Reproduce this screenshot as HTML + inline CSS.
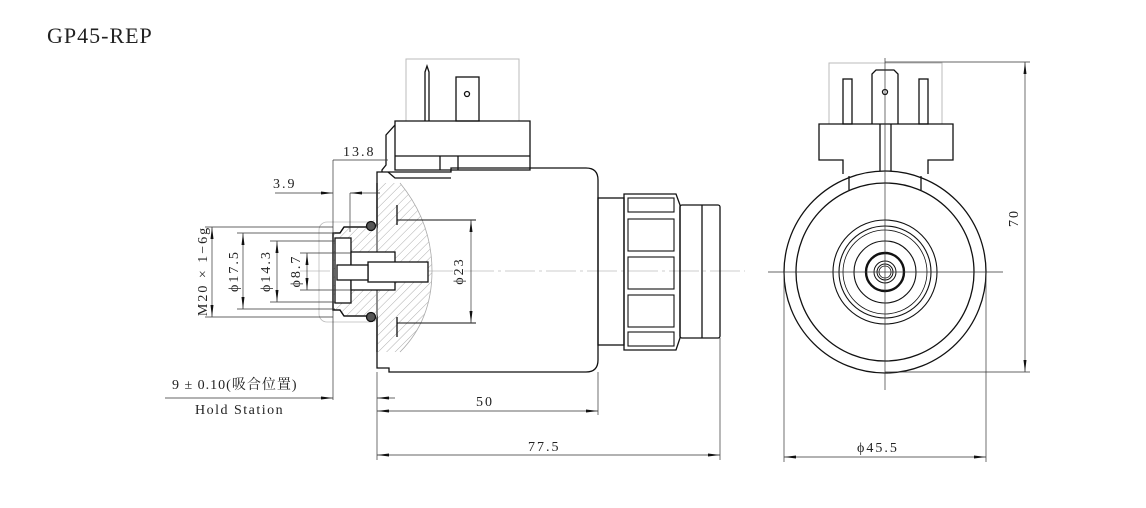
<!DOCTYPE html>
<html><head><meta charset="utf-8"><style>
html,body{margin:0;padding:0;background:#fff;}
svg{display:block;}
text{font-family:"Liberation Serif","Noto Serif CJK SC",serif;fill:#222;}
</style></head><body>
<svg width="1146" height="508" viewBox="0 0 1146 508" xmlns="http://www.w3.org/2000/svg">
<defs>
<pattern id="h" width="6" height="6" patternUnits="userSpaceOnUse" patternTransform="rotate(45)">
<line x1="0" y1="0" x2="0" y2="6" stroke="#999" stroke-width="0.8"/></pattern>
<marker id="a" viewBox="0 0 12 6" refX="12" refY="3" markerWidth="12" markerHeight="6" orient="auto-start-reverse" markerUnits="userSpaceOnUse">
<path d="M0,1.5 L12,3 L0,4.5z" fill="#111"/></marker>
</defs>
<text x="47" y="43" font-size="22" letter-spacing="1">GP45-REP</text>

<g fill="none" stroke="#111" stroke-width="1.3">
<line x1="300" y1="271" x2="745" y2="271" stroke="#999" stroke-width="0.6" stroke-dasharray="30,4,3,4"/>
<rect x="406" y="59" width="113" height="62" stroke="#bbb" stroke-width="1"/>
<path d="M425,121 V72 L427,66 L429,72 V121"/>
<rect x="456" y="77" width="23" height="44"/>
<circle cx="467" cy="94" r="2.5"/>
<path d="M395,121 H530 V170 H395 Z"/>
<line x1="395" y1="156" x2="530" y2="156"/>
<line x1="440" y1="156" x2="440" y2="170"/><line x1="458" y1="156" x2="458" y2="170"/>
<path d="M395,125 L386,135 V165 L382,170 V172"/>
<path d="M377,172 H451 V168 H586 Q598,168 598,180 V360 Q598,372 586,372 H389 V368 H377 Z"/>
<path d="M388,172 L395,178 H451"/>
<path d="M377,183 V220 H372 V322 H377 V352 H400 Q432,320 432,271 Q432,222 400,183 Z" fill="url(#h)" stroke="none"/>
<line x1="377" y1="183" x2="377" y2="352"/>
<path d="M400,183 Q432,222 432,271 Q432,320 400,352" stroke="#aaa" stroke-width="0.8"/>
<line x1="397" y1="205" x2="397" y2="225"/><line x1="397" y1="317" x2="397" y2="337"/>
<line x1="397" y1="220" x2="476" y2="220" stroke-width="1"/>
<line x1="397" y1="323" x2="476" y2="323" stroke-width="1"/>
<rect x="319" y="222" width="58" height="100" rx="8" stroke="#bbb" stroke-width="0.8"/>
<path d="M372,227 H344 L340,233 H333 V310 H340 L344,316 H372" fill="#fff"/>
<path d="M372,227 H344 L340,233 H333 V310 H340 L344,316 H372" fill="url(#h)"/>
<rect x="335" y="238" width="16" height="65" fill="#fff"/>
<rect x="351" y="252" width="44" height="38" fill="#fff"/>
<rect x="368" y="262" width="60" height="20" fill="#fff"/>
<rect x="337" y="265" width="31" height="15" fill="#fff"/>
<circle cx="371" cy="226" r="4.5" fill="#555"/>
<circle cx="371" cy="317" r="4.5" fill="#555"/>
<rect x="598" y="198" width="26" height="147"/>
<path d="M624,194 H676 L680,205 V338 L676,350 H624 Z"/>
<rect x="680" y="205" width="40" height="133" rx="2"/>
<line x1="702" y1="205" x2="702" y2="338"/>
<g stroke-width="1.1">
<rect x="628" y="198" width="46" height="14"/><rect x="628" y="219" width="46" height="32"/>
<rect x="628" y="257" width="46" height="32"/><rect x="628" y="295" width="46" height="32"/>
<rect x="628" y="332" width="46" height="14"/></g>
</g>

<g stroke="#333" stroke-width="0.7" fill="none">
<line x1="333" y1="160" x2="333" y2="400"/>
<line x1="333" y1="160" x2="388" y2="160"/>
<line x1="350" y1="193" x2="350" y2="232"/>
<line x1="275" y1="193" x2="333" y2="193" marker-end="url(#a)"/>
<line x1="380" y1="193" x2="350" y2="193" marker-end="url(#a)"/>
<line x1="165" y1="398" x2="333" y2="398" marker-end="url(#a)"/>
<line x1="395" y1="398" x2="377" y2="398" marker-end="url(#a)"/>
<line x1="377" y1="372" x2="377" y2="460"/>
<line x1="598" y1="372" x2="598" y2="415"/>
<line x1="720" y1="338" x2="720" y2="460"/>
<line x1="377" y1="411" x2="598" y2="411" marker-start="url(#a)" marker-end="url(#a)"/>
<line x1="377" y1="455" x2="720" y2="455" marker-start="url(#a)" marker-end="url(#a)"/>
<line x1="471" y1="220" x2="471" y2="323" marker-start="url(#a)" marker-end="url(#a)"/>
<line x1="205" y1="227" x2="333" y2="227"/><line x1="205" y1="317" x2="333" y2="317"/>
<line x1="212" y1="227" x2="212" y2="317" marker-start="url(#a)" marker-end="url(#a)"/>
<line x1="237" y1="233" x2="335" y2="233"/><line x1="237" y1="309" x2="335" y2="309"/>
<line x1="243" y1="233" x2="243" y2="309" marker-start="url(#a)" marker-end="url(#a)"/>
<line x1="270" y1="241" x2="335" y2="241"/><line x1="270" y1="302" x2="335" y2="302"/>
<line x1="277" y1="241" x2="277" y2="302" marker-start="url(#a)" marker-end="url(#a)"/>
<line x1="300" y1="253" x2="351" y2="253"/><line x1="300" y1="290" x2="351" y2="290"/>
<line x1="307" y1="253" x2="307" y2="290" marker-start="url(#a)" marker-end="url(#a)"/>
</g>
<g font-size="14" letter-spacing="2">
<text x="343" y="156">13.8</text>
<text x="273" y="188">3.9</text>
<text x="476" y="406">50</text>
<text x="528" y="451">77.5</text>
<text x="172" y="389" letter-spacing="1">9 ± 0.10(吸合位置)</text>
<text x="195" y="414" letter-spacing="1.5">Hold Station</text>
<text transform="translate(207,271) rotate(-90)" text-anchor="middle">M20 × 1−6g</text>
<text transform="translate(238,271) rotate(-90)" text-anchor="middle">ϕ17.5</text>
<text transform="translate(270,271) rotate(-90)" text-anchor="middle">ϕ14.3</text>
<text transform="translate(300,271) rotate(-90)" text-anchor="middle">ϕ8.7</text>
<text transform="translate(463,271) rotate(-90)" text-anchor="middle">ϕ23</text>
<text transform="translate(1018,218) rotate(-90)" text-anchor="middle">70</text>
<text x="857" y="452">ϕ45.5</text>
</g>

<g fill="none" stroke="#111" stroke-width="1.3">
<rect x="829" y="63" width="113" height="61" stroke="#bbb" stroke-width="1"/>
<rect x="843" y="79" width="9" height="45"/>
<rect x="919" y="79" width="9" height="45"/>
<path d="M872,124 V74 L876,70 H894 L898,74 V124"/>
<circle cx="885" cy="92" r="2.5"/>
<path d="M843,174 V160 H819 V124 H953 V160 H928 V174"/>
<path d="M880,124 V171 M891,124 V171"/>
<circle cx="885" cy="272" r="101"/>
<circle cx="885" cy="272" r="89"/>
<line x1="849" y1="176" x2="849" y2="190"/><line x1="921" y1="176" x2="921" y2="190"/>
<circle cx="885" cy="272" r="52" stroke-width="1.1"/>
<circle cx="885" cy="272" r="46" stroke-width="1.1"/>
<circle cx="885" cy="272" r="42" stroke-width="0.8"/>
<circle cx="885" cy="272" r="31" stroke-width="1.1"/>
<circle cx="885" cy="272" r="19" stroke-width="2.4"/>
<circle cx="885" cy="272" r="11" stroke-width="1"/>
<circle cx="885" cy="272" r="8" stroke-width="1"/>
<circle cx="885" cy="272" r="6" stroke-width="0.8"/>
</g>
<g stroke="#333" stroke-width="0.7" fill="none">
<line x1="768" y1="272" x2="1003" y2="272"/>
<line x1="885" y1="58" x2="885" y2="390"/>
<line x1="885" y1="62" x2="1030" y2="62"/>
<line x1="885" y1="372" x2="1030" y2="372"/>
<line x1="1025" y1="62" x2="1025" y2="372" marker-start="url(#a)" marker-end="url(#a)"/>
<line x1="784" y1="272" x2="784" y2="462"/>
<line x1="986" y1="272" x2="986" y2="462"/>
<line x1="784" y1="457" x2="986" y2="457" marker-start="url(#a)" marker-end="url(#a)"/>
</g>
</svg>
</body></html>
